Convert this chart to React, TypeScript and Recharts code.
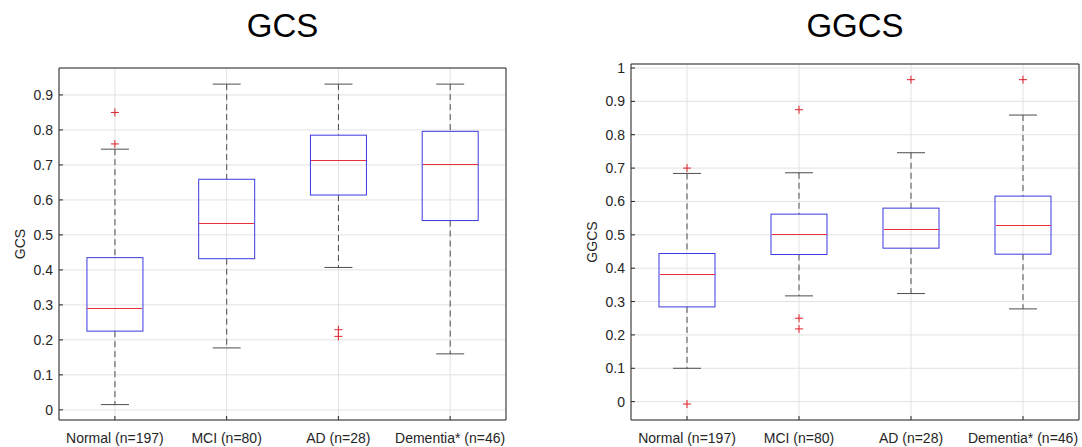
import {
  ComposedChart,
  Bar,
  Line,
  XAxis,
  YAxis,
  CartesianGrid,
  ReferenceArea,
  Label,
} from "recharts";

const categories = ["Normal (n=197)", "MCI (n=80)", "AD (n=28)", "Dementia* (n=46)"];

// GCS box stats
const gcsLow = [0.015, 0.177, 0.407, 0.16];
const gcsQ1 = [0.225, 0.432, 0.614, 0.541];
const gcsMedian = [0.289, 0.533, 0.714, 0.702];
const gcsQ3 = [0.435, 0.659, 0.785, 0.796];
const gcsHigh = [0.745, 0.931, 0.931, 0.931];
const gcsOutliers = [[0.85, 0.76], [], [0.229, 0.21], []];
const gcsTicks = [0, 0.1, 0.2, 0.3, 0.4, 0.5, 0.6, 0.7, 0.8, 0.9];
const gcsDomain = [-0.029, 0.977];

// GGCS box stats
const ggcsLow = [0.1, 0.317, 0.324, 0.278];
const ggcsQ1 = [0.284, 0.441, 0.46, 0.442];
const ggcsMedian = [0.381, 0.5, 0.516, 0.527];
const ggcsQ3 = [0.444, 0.562, 0.58, 0.616];
const ggcsHigh = [0.684, 0.686, 0.746, 0.859];
const ggcsOutliers = [[0.7, -0.007], [0.875, 0.25, 0.218], [0.965], [0.965]];
const ggcsTicks = [0, 0.1, 0.2, 0.3, 0.4, 0.5, 0.6, 0.7, 0.8, 0.9, 1];
const ggcsDomain = [-0.055, 1.012];

const BOX = "#3a3ae0";
const MEDIAN = "#e8303a";
const WHISKER = "#4d4d4d";
const OUTLIER = "#e0202a";
const GRID = "#e2e2e2";
const AXIS = "#262626";

const buildRows = (
  low: number[],
  q1: number[],
  median: number[],
  q3: number[],
  high: number[],
  outliers: number[][]
) =>
  categories.map((name, i) => ({
    name,
    low: low[i],
    q1: q1[i],
    median: median[i],
    q3: q3[i],
    high: high[i],
    o1: outliers[i][0] ?? null,
    o2: outliers[i][1] ?? null,
    o3: outliers[i][2] ?? null,
  }));

const gcsRows = buildRows(gcsLow, gcsQ1, gcsMedian, gcsQ3, gcsHigh, gcsOutliers);
const ggcsRows = buildRows(ggcsLow, ggcsQ1, ggcsMedian, ggcsQ3, ggcsHigh, ggcsOutliers);

// the bar spans low..high, everything else is placed relative to it
const BoxShape = (props: any) => {
  const { x, y, width, height, payload } = props;
  const { low, q1, median, q3, high } = payload;
  const py = (v: number) => y + (height * (high - v)) / (high - low);
  const cx = x + width / 2;
  const cap = width / 4;
  return (
    <g>
      <line x1={cx} x2={cx} y1={py(high)} y2={py(q3)} stroke={WHISKER} strokeDasharray="6 4" />
      <line x1={cx} x2={cx} y1={py(q1)} y2={py(low)} stroke={WHISKER} strokeDasharray="6 4" />
      <line x1={cx - cap} x2={cx + cap} y1={py(high)} y2={py(high)} stroke={WHISKER} />
      <line x1={cx - cap} x2={cx + cap} y1={py(low)} y2={py(low)} stroke={WHISKER} />
      <rect x={x} y={py(q3)} width={width} height={py(q1) - py(q3)} fill="none" stroke={BOX} />
      <line
        x1={x + 0.5}
        x2={x + width - 0.5}
        y1={py(median)}
        y2={py(median)}
        stroke={MEDIAN}
        shapeRendering="crispEdges"
      />
    </g>
  );
};

const Cross = (props: any) => {
  const { cx, cy, value, index } = props;
  if (value == null || cy == null || Number.isNaN(cy)) return <g key={`c${index}`} />;
  return (
    <g key={`c${index}`}>
      <line x1={cx - 4} x2={cx + 4} y1={cy} y2={cy} stroke={OUTLIER} />
      <line x1={cx} x2={cx} y1={cy - 4} y2={cy + 4} stroke={OUTLIER} />
    </g>
  );
};

const NoLabel = () => <g />;

interface BoxChartProps {
  title: string;
  axisLabel: string;
  rows: any[];
  ticks: number[];
  domain: number[];
  left: number;
  top: number;
  right: number;
}

const BoxChart = ({ title, axisLabel, rows, ticks, domain, left, top, right }: BoxChartProps) => (
  <div style={{ position: "absolute", left, top: 0, width: 510, height: 447 }}>
    <div
      style={{
        position: "absolute",
        left: 59,
        width: 510 - 59 - right,
        top: 9,
        fontSize: 33,
        lineHeight: "33px",
        textAlign: "center",
        color: "#000",
      }}
    >
      {title}
    </div>
    <ComposedChart
      width={510}
      height={447}
      data={rows}
      margin={{ top, right, bottom: 0, left: 20 }}
      barCategoryGap="25%"
    >
      <CartesianGrid stroke={GRID} />
      <XAxis
        dataKey="name"
        height={27}
        interval={0}
        tickSize={-4}
        tickMargin={17}
        axisLine={false}
        tickLine={{ stroke: AXIS }}
        tick={{ fill: AXIS, fontSize: 14 }}
      />
      <YAxis
        type="number"
        domain={domain}
        ticks={ticks}
        allowDataOverflow
        width={39}
        tickSize={-4}
        tickMargin={10}
        axisLine={false}
        tickLine={{ stroke: AXIS }}
        tick={{ fill: AXIS, fontSize: 14 }}
      >
        <Label
          content={({ viewBox }: any) => {
            const lx = viewBox.x + 5;
            const ly = viewBox.y + viewBox.height / 2;
            return (
              <text
                x={lx}
                y={ly}
                fill={AXIS}
                fontSize={14}
                textAnchor="middle"
                transform={`rotate(-90 ${lx} ${ly})`}
              >
                {axisLabel}
              </text>
            );
          }}
        />
      </YAxis>
      <YAxis
        yAxisId="r"
        orientation="right"
        type="number"
        domain={domain}
        ticks={ticks}
        allowDataOverflow
        width={0}
        tickSize={-4}
        axisLine={false}
        tickLine={{ stroke: AXIS }}
        tick={NoLabel}
      />
      <ReferenceArea y1={domain[0]} y2={domain[1]} fill="none" stroke={AXIS} />
      <Bar dataKey={(d: any) => [d.low, d.high]} shape={BoxShape} isAnimationActive={false} />
      {["o1", "o2", "o3"].map((k) => (
        <Line
          key={k}
          dataKey={k}
          stroke="none"
          dot={Cross}
          activeDot={false}
          isAnimationActive={false}
        />
      ))}
    </ComposedChart>
  </div>
);

export default function App() {
  return (
    <div
      style={{
        position: "absolute",
        left: 0,
        top: 0,
        width: 1082,
        height: 447,
        background: "#fff",
        fontFamily: "'Liberation Sans', Arial, sans-serif",
      }}
    >
      <BoxChart
        title="GCS"
        axisLabel="GCS"
        rows={gcsRows}
        ticks={gcsTicks}
        domain={gcsDomain}
        left={0}
        top={68}
        right={4}
      />
      <BoxChart
        title="GGCS"
        axisLabel="GGCS"
        rows={ggcsRows}
        ticks={ggcsTicks}
        domain={ggcsDomain}
        left={572}
        top={64}
        right={3}
      />
    </div>
  );
}
